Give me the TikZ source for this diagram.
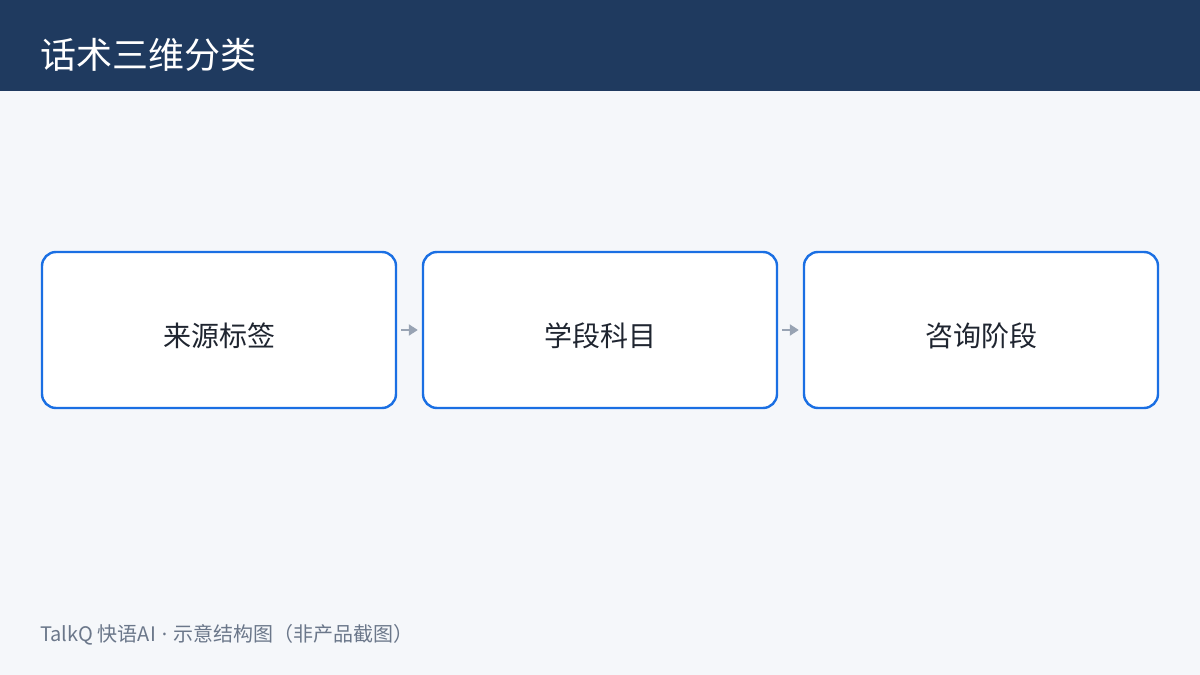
\documentclass[tikz,border=0pt]{standalone}
\usepackage{fontspec}
\setmainfont{Noto Sans CJK SC}
\newfontfamily\latinfont{Noto Sans}
\usepackage{tikz}
\usetikzlibrary{arrows.meta}

\definecolor{headbg}{HTML}{1F3A5F}
\definecolor{pagebg}{HTML}{F5F7FA}
\definecolor{boxline}{HTML}{1A6FE3}
\definecolor{arrowgray}{HTML}{98A3B3}
\definecolor{textdark}{HTML}{1F2530}
\definecolor{footgray}{HTML}{6B778A}

\newcommand{\stagetext}[1]{\raisebox{-6pt}[\height][\depth]{#1}}

\begin{document}
\begin{tikzpicture}[x=1pt,y=1pt,
	stagebox/.style={draw=boxline,line width=2.4pt,fill=white,rounded corners=14pt,
		minimum width=354pt,minimum height=156pt,inner sep=0pt,
		text=textdark,font=\fontsize{28}{32}\selectfont},
	flow/.style={draw=arrowgray,line width=2.6pt,-{Triangle[length=9pt,width=11pt]},
		shorten <=4pt,shorten >=4pt}]
	%PAGE
	\useasboundingbox (0,0) rectangle (1200,675);
	\fill[pagebg] (0,0) rectangle (1200,675);
	\fill[headbg] (0,584) rectangle (1200,675);
	\node[anchor=west,text=white,font=\fontsize{36}{40}\selectfont,inner sep=0pt] (title) at (40,620) {话术三维分类};
	
	%BOXES
	\node[stagebox] (source) at (219,345) {\stagetext{来源标签}};
	\node[stagebox] (subject) at (600,345) {\stagetext{学段科目}};
	\node[stagebox] (phase) at (981,345) {\stagetext{咨询阶段}};
	
	%ARROWS
	\draw[flow] (source) -- (subject);
	\draw[flow] (subject) -- (phase);
	
	%FOOTER
	\node[anchor=west,text=footgray,font=\fontsize{20}{24}\selectfont,inner sep=0pt] (foot) at (40,40) {TalkQ 快语AI{\latinfont\hspace{6pt}·\hspace{6pt}}示意结构图（非产品截图）};
\end{tikzpicture}
\end{document}
